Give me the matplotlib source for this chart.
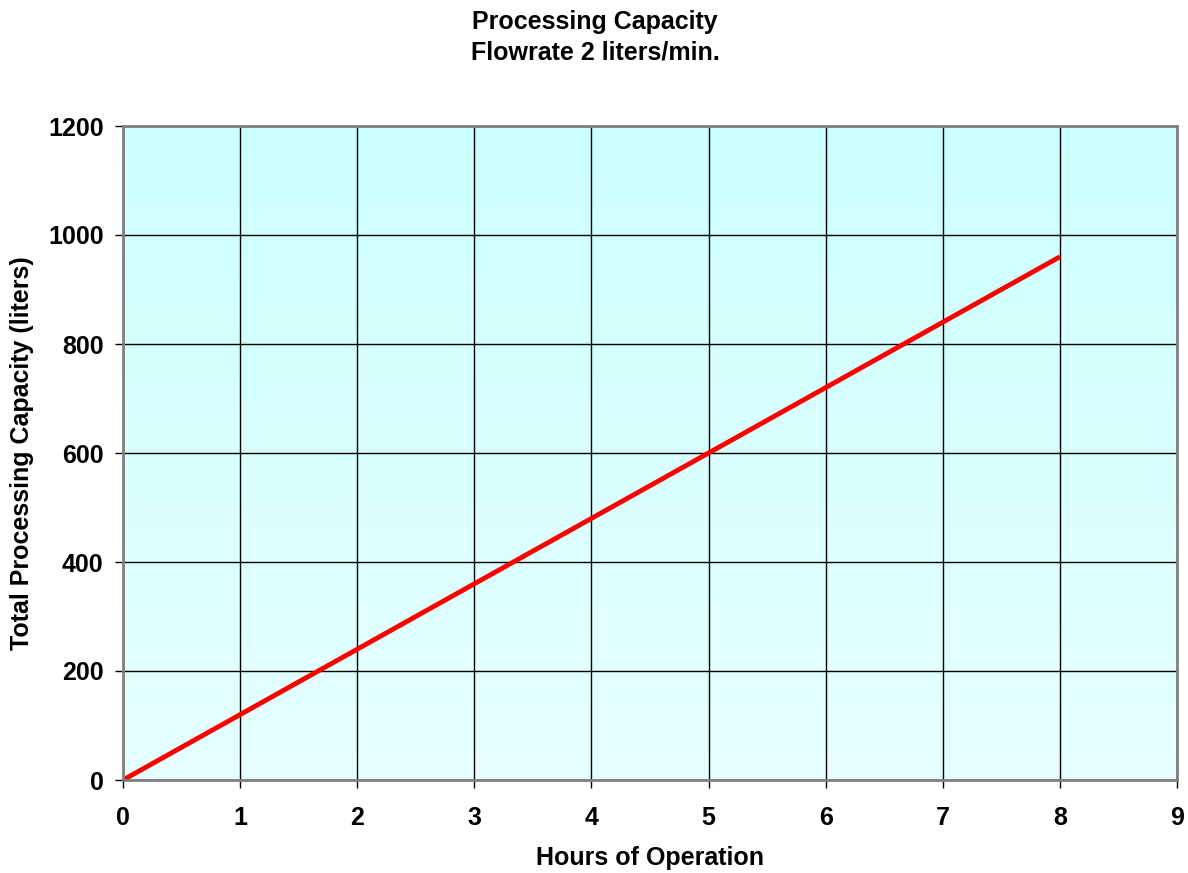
import numpy as np
import matplotlib
matplotlib.use("Agg")
import matplotlib.pyplot as plt
from matplotlib.colors import LinearSegmentedColormap

hours = [0, 1, 2, 3, 4, 5, 6, 7, 8]
capacity = [0, 120, 240, 360, 480, 600, 720, 840, 960]
x_ticks = [0, 1, 2, 3, 4, 5, 6, 7, 8, 9]
y_ticks = [0, 200, 400, 600, 800, 1000, 1200]

plt.rcParams['font.family'] = ['Liberation Sans', 'DejaVu Sans']
plt.rcParams['font.weight'] = 'bold'

FS = 18

fig = plt.figure(figsize=(11.88, 8.73), dpi=100)
ax = fig.add_axes([123/1188, 1-780/873, (1177-123)/1188, (780-126)/873])

cmap = LinearSegmentedColormap.from_list('bg', ['#E6FFFF', '#CCFFFF'])
grad = np.linspace(0, 1, 256).reshape(-1, 1)
ax.imshow(grad, cmap=cmap, aspect='auto', extent=[0, 1, 0, 1],
          transform=ax.transAxes, origin='lower', zorder=0)

ax.set_xlim(0, 9)
ax.set_ylim(0, 1200)
ax.set_xticks(x_ticks)
ax.set_yticks(y_ticks)
ax.grid(True, color='black', linewidth=1.0, zorder=1)
ax.set_axisbelow(False)

ax.plot(hours, capacity, color='#FF0000', linewidth=3.5, zorder=3,
        solid_capstyle='butt')

for s in ax.spines.values():
    s.set_color('#808080')
    s.set_linewidth(2)
    s.set_zorder(4)

ax.tick_params(axis='both', direction='out', length=6, width=1, color='black',
               labelsize=FS)
ax.tick_params(axis='x', pad=13)
ax.tick_params(axis='y', pad=8)
for lbl in ax.get_xticklabels() + ax.get_yticklabels():
    lbl.set_fontweight('bold')

fig.text(650/1188, 1-858/873, 'Hours of Operation', ha='center', va='center',
         fontsize=FS, fontweight='bold')
fig.text(22/1188, 1-453/873, 'Total Processing Capacity (liters)', ha='center', va='center',
         rotation=90, fontsize=FS, fontweight='bold')

fig.text(595/1188, 1-22/873, 'Processing Capacity', ha='center', va='center',
         fontsize=FS, fontweight='bold')
fig.text(595/1188, 1-52/873, 'Flowrate 2 liters/min.', ha='center', va='center',
         fontsize=FS, fontweight='bold')

fig.savefig('out.png', dpi=100)
